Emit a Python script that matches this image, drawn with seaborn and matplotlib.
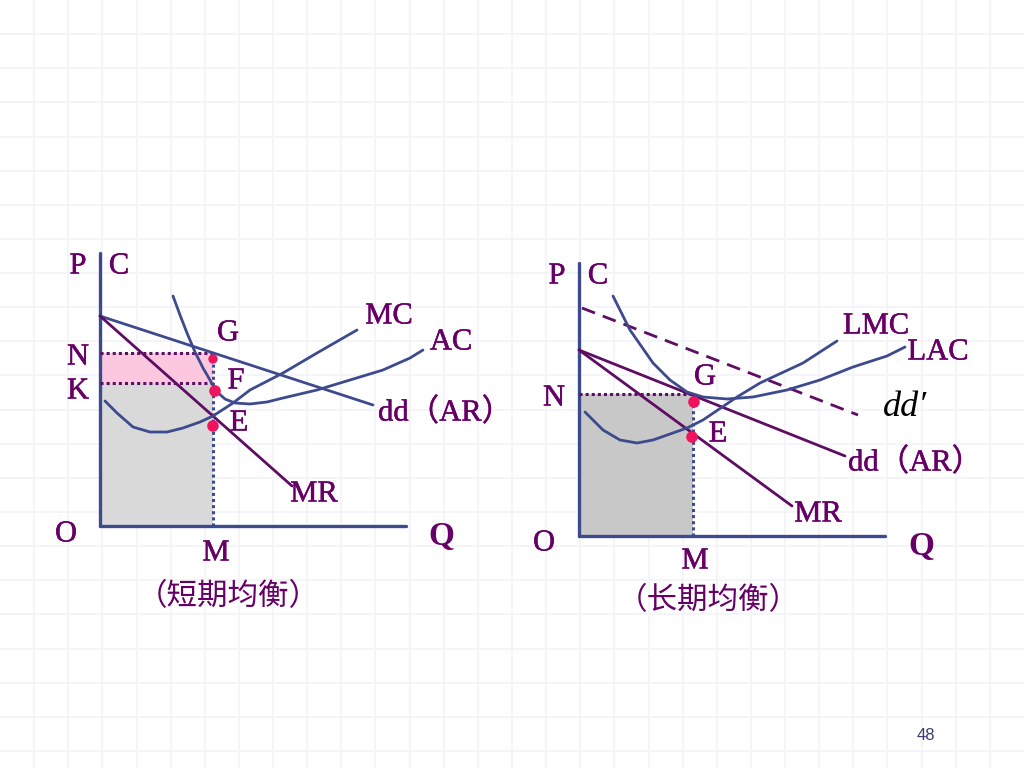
import numpy as np
import pandas as pd
import matplotlib.pyplot as plt
import matplotlib.patheffects as pe
import seaborn as sns

# ---- data (Q, P measured from each panel's origin) ----
# short run panel
sr_dd_q = [0, 273]
sr_dd_p = [210, 121]
sr_mr_q = [0, 192]
sr_mr_p = [210, 40]
sr_ac_q = [73, 80, 87, 95, 103, 110, 116, 125, 135, 150, 167, 183, 217, 250, 283, 310, 323]
sr_ac_p = [230, 211, 193, 174, 158, 146, 135, 127, 123, 122, 124, 128, 136, 146, 156, 168, 176]
sr_mc_q = [5, 17, 33, 50, 67, 83, 100, 113, 133, 150, 183, 217, 257]
sr_mc_p = [125, 113, 99, 94, 94, 98, 104, 110, 123, 136, 153, 173, 196]
sr_pts_q = [113, 115, 113]          # G, F, E
sr_pts_p = [167, 135, 100]
sr_N, sr_K, sr_M = 173, 143, 113

# long run panel
lr_ddp_q = [3, 279]
lr_ddp_p = [228, 121]
lr_dd_q = [0, 266]
lr_dd_p = [186, 80]
lr_mr_q = [0, 213]
lr_mr_p = [186, 30]
lr_lac_q = [34, 51, 74, 91, 108, 124, 148, 174, 208, 241, 274, 308, 326]
lr_lac_p = [240, 206, 173, 156, 144, 139, 137, 139, 146, 156, 169, 180, 189]
lr_lmc_q = [6, 24, 41, 58, 74, 91, 108, 124, 158, 181, 224, 258]
lr_lmc_p = [124, 106, 96, 93, 96, 102, 108, 116, 139, 153, 173, 195]
lr_pts_q = [115, 113]               # G, E
lr_pts_p = [134, 99]
lr_N, lr_M = 142, 114

axis_len_q, axis_len_p = 306, 273

BLUE = '#3d4a8e'
PURPLE = '#5e0d62'
TEXT = '#660066'
DOT = '#f0145f'

sns.set_theme(style='white')
plt.rcParams['font.family'] = ['Liberation Serif', 'Noto Sans CJK SC']

fig = plt.figure(figsize=(10.24, 7.68), dpi=100)

# background slide grid, pixel coordinates
bg = fig.add_axes([0, 0, 1, 1])
bg.set_xlim(0, 1024)
bg.set_ylim(768, 0)
for v in np.arange(1024 / 30, 1024, 1024 / 30):
    bg.axvline(v, color='#f3f4f8', lw=1.2, zorder=0)
for v in np.arange(1024 / 30, 768, 1024 / 30):
    bg.axhline(v, color='#f3f4f8', lw=1.2, zorder=0)
bg.axis('off')


def panel(ox, oy):
    ax = fig.add_axes([0, 0, 1, 1])
    ax.set_xlim(-ox, 1024 - ox)
    ax.set_ylim(-(768 - oy), oy)
    ax.patch.set_alpha(0)
    ax.axis('off')
    return ax


def line(ax, q, p, color, lw=2.0, ls='-'):
    df = pd.DataFrame({'q': q, 'p': p})
    sns.lineplot(data=df, x='q', y='p', sort=False, estimator=None,
                 color=color, lw=lw, linestyle=ls, ax=ax, legend=False)


# ---- short run ----
ax1 = panel(100, 526)
ax1.fill_between([0, sr_M], sr_K, sr_N, color='#fcc8e0', lw=0)
ax1.fill_between([0, sr_M], 0, sr_K, color='#d9d9d9', lw=0)
line(ax1, [0, 0], [0, axis_len_p], BLUE, 2.4)
line(ax1, [0, axis_len_q], [0, 0], BLUE, 2.4)
line(ax1, [0, sr_M], [sr_N, sr_N], PURPLE, 2.2, (0, (1, 1)))
line(ax1, [0, sr_M], [sr_K, sr_K], PURPLE, 2.2, (0, (1, 1)))
line(ax1, [sr_M, sr_M], [0, sr_N], BLUE, 2.2, (0, (1, 1)))
line(ax1, sr_dd_q, sr_dd_p, BLUE)
line(ax1, sr_mr_q, sr_mr_p, PURPLE)
line(ax1, sr_ac_q, sr_ac_p, BLUE)
line(ax1, sr_mc_q, sr_mc_p, BLUE)
sns.scatterplot(x=sr_pts_q, y=sr_pts_p, s=[45, 70, 70], color=DOT,
                edgecolor='none', ax=ax1, zorder=5, legend=False)

# ---- long run ----
ax2 = panel(579, 536)
ax2.fill_between([0, lr_M], 0, lr_N, color='#c8c8c8', lw=0)
line(ax2, [0, 0], [0, axis_len_p], BLUE, 2.4)
line(ax2, [0, axis_len_q], [0, 0], BLUE, 2.4)
line(ax2, [0, lr_M], [lr_N, lr_N], PURPLE, 2.2, (0, (1, 1)))
line(ax2, [lr_M, lr_M], [0, lr_N], BLUE, 2.2, (0, (1, 1)))
line(ax2, lr_ddp_q, lr_ddp_p, PURPLE, 2.0, (0, (5, 3)))
line(ax2, lr_dd_q, lr_dd_p, PURPLE)
line(ax2, lr_mr_q, lr_mr_p, PURPLE)
line(ax2, lr_lac_q, lr_lac_p, BLUE)
line(ax2, lr_lmc_q, lr_lmc_p, BLUE)
sns.scatterplot(x=lr_pts_q, y=lr_pts_p, s=70, color=DOT,
                edgecolor='none', ax=ax2, zorder=5, legend=False)

# ---- labels (pixel positions) ----
labels = [
    ('P', 78, 266), ('C', 119, 266), ('N', 78, 357), ('K', 78, 391),
    ('O', 66, 534), ('M', 216, 553), ('G', 228, 333), ('F', 236, 381),
    ('E', 239, 423), ('MC', 389, 316), ('AC', 451, 342),
    ('dd（AR）', 445, 413), ('MR', 314, 494),
    ('P', 557, 276), ('C', 598, 276), ('N', 554, 398), ('O', 544, 543),
    ('M', 695, 561), ('G', 705, 377), ('E', 718, 434), ('LMC', 876, 326),
    ('LAC', 938, 352), ('dd（AR）', 915, 463), ('MR', 818, 514),
]
thick = [pe.withStroke(linewidth=0.35, foreground=TEXT)]
for s, x, y in labels:
    bg.text(x, y, s, color=TEXT, fontsize=22, ha='center', va='center',
            path_effects=thick)
for x, y in [(441, 537), (921, 547)]:
    bg.text(x, y, 'Q', color=TEXT, fontsize=24, ha='center', va='center',
            fontweight='bold')
bg.text(905, 407, "dd′", color='black', fontsize=26, ha='center', va='center',
        family=['Liberation Serif', 'DejaVu Serif'], style='italic')
bg.text(228, 597, '（短期均衡）', color=TEXT, fontsize=22, ha='center', va='center',
        family=['Noto Sans CJK SC'])
bg.text(708, 601, '（长期均衡）', color=TEXT, fontsize=22, ha='center', va='center',
        family=['Noto Sans CJK SC'])
bg.text(926, 736, '48', color='#3a3f6e', fontsize=12, ha='center', va='center',
        family=['Liberation Sans'])

fig.savefig('out.png', dpi=100)
